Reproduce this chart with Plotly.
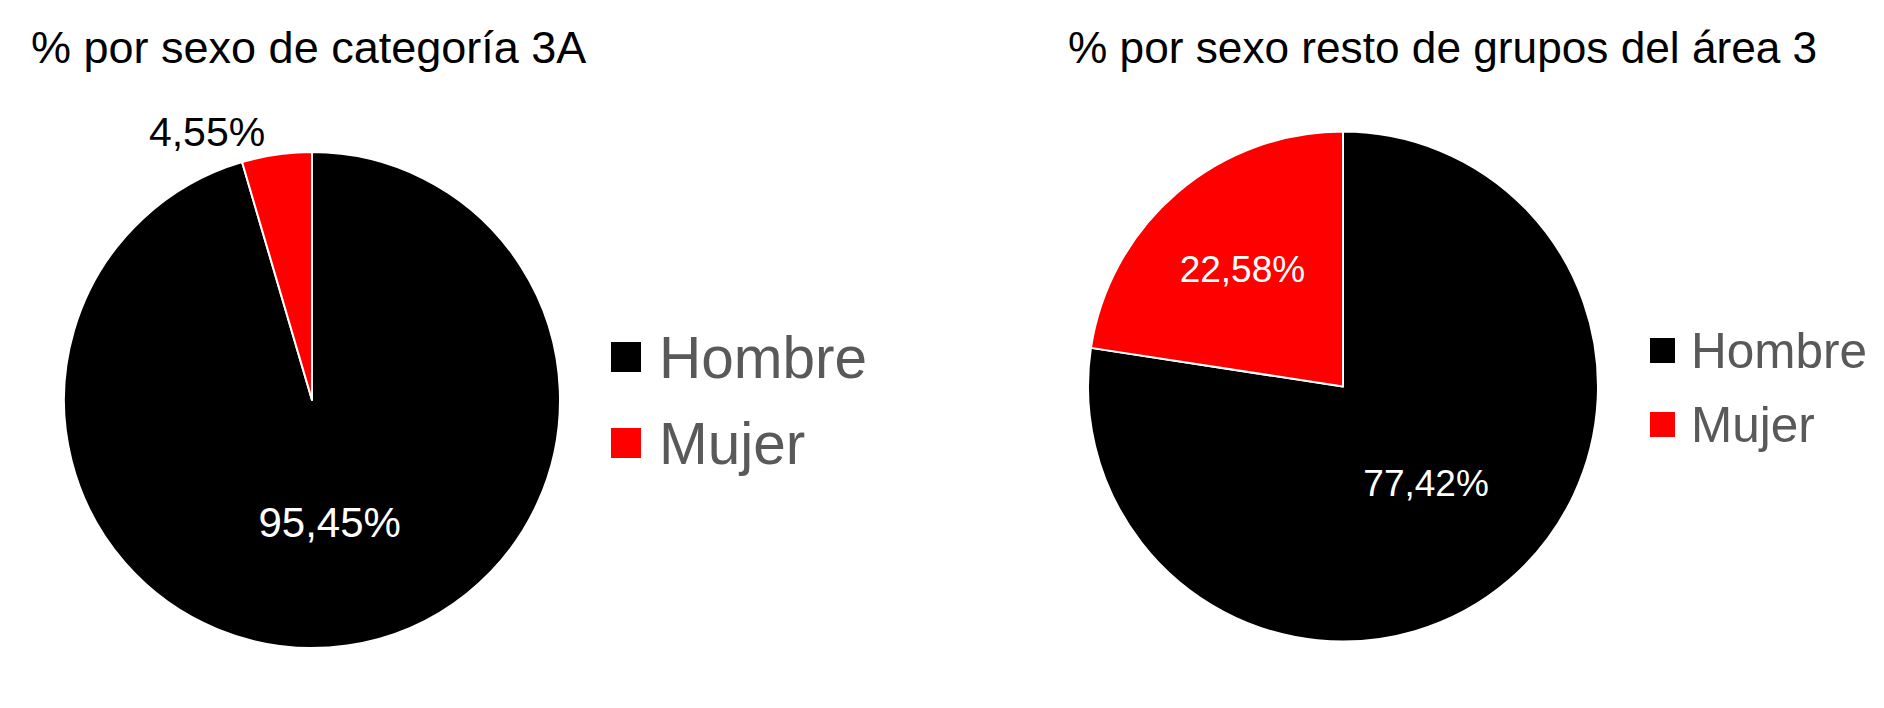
import plotly.graph_objects as go

PAGE_OFF = 8            # default body margin of the html page
W, H = 1884 - PAGE_OFF, 708 - PAGE_OFF

categories = ["Hombre", "Mujer"]
colors = ["#000000", "#FF0000"]

title_left = "% por sexo de categoría 3A"
values_left = [95.45, 4.55]

title_right = "% por sexo resto de grupos del área 3"
values_right = [77.42, 22.58]


def fmt(v):
    return f"{v:.2f}".replace(".", ",") + "%"


def px_x(x):
    return (x - PAGE_OFF) / W


def px_y(y):
    return 1 - (y - PAGE_OFF) / H


fig = go.Figure()

fig.add_trace(go.Pie(
    labels=categories, values=values_left, sort=False, direction="clockwise",
    rotation=0, text=[fmt(v) for v in values_left], textinfo="text",
    textposition=["inside", "outside"], insidetextorientation="horizontal",
    insidetextfont=dict(color="white", size=42, family="Liberation Sans"),
    outsidetextfont=dict(color="black", size=41, family="Liberation Sans"),
    marker=dict(colors=colors, line=dict(color="white", width=2)),
    domain=dict(x=[px_x(64), px_x(560)], y=[px_y(648), px_y(152)]),
    showlegend=False, hoverinfo="label+text",
))

fig.add_trace(go.Pie(
    labels=categories, values=values_right, sort=False, direction="clockwise",
    rotation=0, text=[fmt(v) for v in values_right], textinfo="text",
    textposition=["inside", "inside"], insidetextorientation="horizontal",
    insidetextfont=dict(color="white", size=37, family="Liberation Sans"),
    marker=dict(colors=colors, line=dict(color="white", width=2)),
    domain=dict(x=[px_x(1088), px_x(1598)], y=[px_y(642), px_y(131)]),
    showlegend=False, hoverinfo="label+text",
))

annotations = []
# titles
annotations.append(dict(text=title_left, x=px_x(29), y=px_y(47), xref="paper", yref="paper",
                        xanchor="left", yanchor="middle", showarrow=False,
                        font=dict(size=45, color="black", family="Liberation Sans")))
annotations.append(dict(text=title_right, x=px_x(1066), y=px_y(47), xref="paper", yref="paper",
                        xanchor="left", yanchor="middle", showarrow=False,
                        font=dict(size=44.2, color="black", family="Liberation Sans")))

# legends (drawn as annotations to get large squares)
legend_specs = [
    dict(sq_x=611, sq=30, text_x=657, ys=[357, 443], size=58.5),
    dict(sq_x=1650, sq=25, text_x=1689, ys=[350, 424], size=49.5),
]
for spec in legend_specs:
    for cat, col, yc in zip(categories, colors, spec["ys"]):
        annotations.append(dict(text=" ", x=px_x(spec["sq_x"]), y=px_y(yc), xref="paper", yref="paper",
                                xanchor="left", yanchor="middle", showarrow=False,
                                width=spec["sq"], height=spec["sq"], bgcolor=col,
                                borderpad=0, borderwidth=0, font=dict(size=10)))
        annotations.append(dict(text=cat, x=px_x(spec["text_x"]), y=px_y(yc), xref="paper", yref="paper",
                                xanchor="left", yanchor="middle", showarrow=False,
                                font=dict(size=spec["size"], color="#595959", family="Liberation Sans")))

fig.update_layout(
    width=W, height=H, margin=dict(l=0, r=0, t=0, b=0),
    paper_bgcolor="white", plot_bgcolor="white",
    annotations=annotations,
)

fig.write_html("out.html")
